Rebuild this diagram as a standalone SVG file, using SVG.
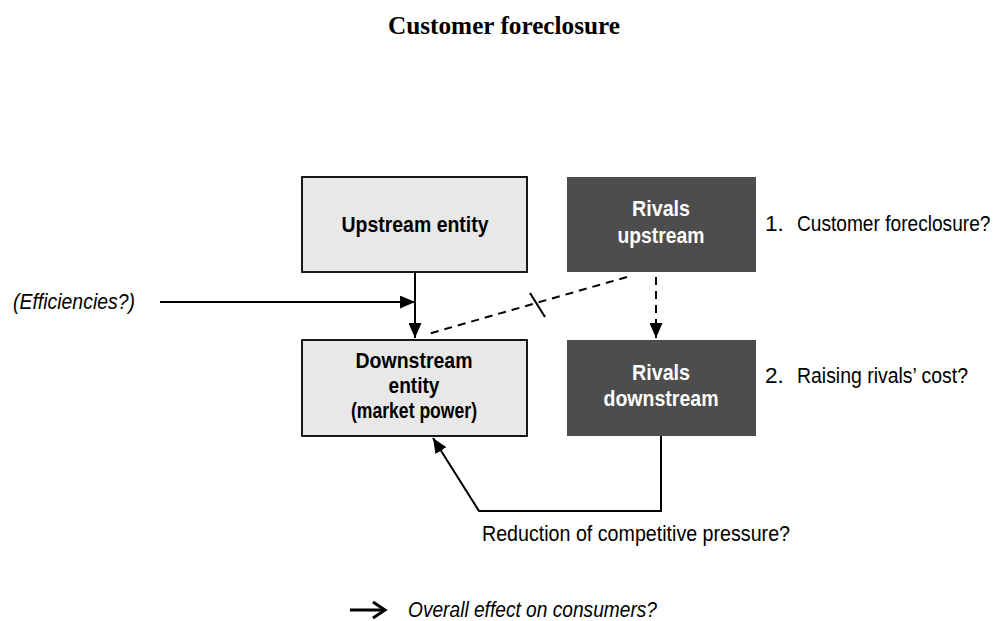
<svg xmlns="http://www.w3.org/2000/svg" width="999" height="621" viewBox="0 0 999 621">
<style>
.light{fill:#e8e8e8;stroke:#000;stroke-width:1.8}
.dark{fill:#4d4d4d;stroke:none}
.lbl{font-family:"Liberation Sans",Arial,sans-serif;font-size:22.5px;font-weight:bold;text-anchor:middle}
.lblw{font-family:"Liberation Sans",Arial,sans-serif;font-size:22.5px;font-weight:bold;text-anchor:middle;fill:#fff}
.txt{font-family:"Liberation Sans",Arial,sans-serif;font-size:22.5px;fill:#000}
.it{font-style:italic}
.ln{fill:none;stroke:#000;stroke-width:2}
.dash{fill:none;stroke:#000;stroke-width:2;stroke-dasharray:8 6}
</style>
<defs>
<marker id="ah" markerUnits="userSpaceOnUse" markerWidth="16" markerHeight="13" refX="15" refY="6.5" orient="auto">
<path d="M0,0 L15,6.5 L0,13 z" fill="#000"/>
</marker>
</defs>
<rect width="999" height="621" fill="#fff"/>
<text x="504" y="34" font-family="'Liberation Serif','Times New Roman',serif" font-size="24.5" font-weight="bold" text-anchor="middle" textLength="232" lengthAdjust="spacingAndGlyphs">Customer foreclosure</text>

<g id="connectors">
<line class="ln" x1="415" y1="272" x2="415" y2="338" marker-end="url(#ah)"/>
<line class="ln" x1="160" y1="302" x2="415" y2="302" marker-end="url(#ah)"/>
<line class="dash" x1="627" y1="277" x2="428" y2="334"/>
<line class="ln" x1="530" y1="293" x2="545" y2="317" stroke-width="1.5"/>
<line class="dash" x1="656" y1="277" x2="656" y2="338" marker-end="url(#ah)"/>
<polyline class="ln" points="661,436 661,511 479,511 433,438" marker-end="url(#ah)"/>
</g>

<g id="upstream-entity">
<rect class="light" x="302" y="177" width="225" height="95"/>
<text class="lbl" x="415" y="232" textLength="147" lengthAdjust="spacingAndGlyphs">Upstream entity</text>
</g>
<g id="rivals-upstream">
<rect class="dark" x="567" y="177" width="189" height="95"/>
<text class="lblw" x="661" y="216" textLength="58" lengthAdjust="spacingAndGlyphs">Rivals</text>
<text class="lblw" x="661" y="243" textLength="87" lengthAdjust="spacingAndGlyphs">upstream</text>
</g>
<g id="downstream-entity">
<rect class="light" x="302" y="340" width="225" height="96"/>
<text class="lbl" x="414" y="368" textLength="117" lengthAdjust="spacingAndGlyphs">Downstream</text>
<text class="lbl" x="414" y="393" textLength="51" lengthAdjust="spacingAndGlyphs">entity</text>
<text class="lbl" x="414" y="418" textLength="126" lengthAdjust="spacingAndGlyphs">(market power)</text>
</g>
<g id="rivals-downstream">
<rect class="dark" x="567" y="340" width="189" height="96"/>
<text class="lblw" x="661" y="380" textLength="58" lengthAdjust="spacingAndGlyphs">Rivals</text>
<text class="lblw" x="661" y="406" textLength="115" lengthAdjust="spacingAndGlyphs">downstream</text>
</g>

<g id="labels">
<text class="txt" x="765" y="231">1.</text>
<text class="txt" transform="translate(797 231) scale(0.85 1)" x="0" y="0">Customer foreclosure?</text>
<text class="txt" x="765" y="383">2.</text>
<text class="txt" x="797" y="383" textLength="171" lengthAdjust="spacingAndGlyphs">Raising rivals’ cost?</text>
<text class="txt it" x="13" y="309" textLength="122" lengthAdjust="spacingAndGlyphs">(Efficiencies?)</text>
<text class="txt" x="482" y="541" textLength="308" lengthAdjust="spacingAndGlyphs">Reduction of competitive pressure?</text>
<text class="txt it" x="408" y="617" textLength="249" lengthAdjust="spacingAndGlyphs">Overall effect on consumers?</text>
</g>
<g id="bullet-arrow">
<line x1="350" y1="610" x2="384" y2="610" stroke="#000" stroke-width="3"/>
<polyline points="373,602 385,610 373,618" fill="none" stroke="#000" stroke-width="3"/>
</g>
</svg>
